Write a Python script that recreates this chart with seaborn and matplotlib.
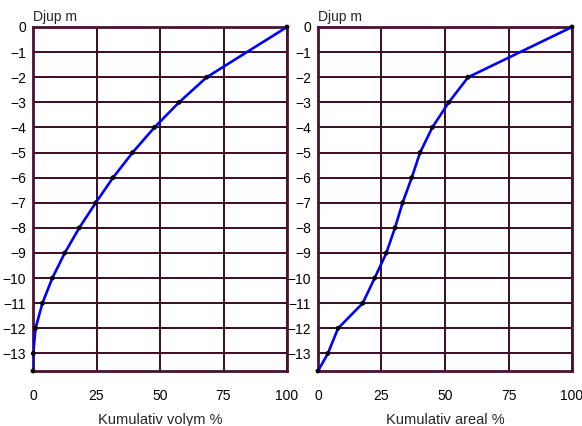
import numpy as np
import pandas as pd
import seaborn as sns
import matplotlib.pyplot as plt
from matplotlib.ticker import MultipleLocator

# depth in metres and cumulative percentages
depth = [0, -2, -3, -4, -5, -6, -7, -8, -9, -10, -11, -12, -13, -13.7]
volym = [100, 68.4, 57.5, 47.8, 39.2, 31.5, 24.7, 18.2, 12.5, 7.6, 3.7, 1.0, 0.1, 0]
areal = [100, 59.1, 51.5, 45.0, 40.2, 36.9, 33.3, 30.3, 26.9, 22.3, 17.6, 7.9, 3.9, 0]

x_labels = ["Kumulativ volym %", "Kumulativ areal %"]
y_label = "Djup m"

sns.set_style("white")
plt.rcParams['font.family'] = ['Liberation Sans', 'DejaVu Sans']

frame_col = '#4a1232'
grid_col = '#3a0c24'

fig = plt.figure(figsize=(5.82, 4.26), dpi=100)
ax1 = fig.add_axes([33 / 582, 55 / 426, 254 / 582, 344 / 426])
ax2 = fig.add_axes([318 / 582, 55 / 426, 254 / 582, 344 / 426])

for ax, vals, xlab in zip([ax1, ax2], [volym, areal], x_labels):
    df = pd.DataFrame({'pct': vals, 'depth': depth})
    sns.lineplot(data=df, x='pct', y='depth', sort=False, estimator=None,
                 color='#0000ff', linewidth=1.9, ax=ax, zorder=3)
    sns.scatterplot(data=df, x='pct', y='depth', color='black', s=12,
                    edgecolor='none', ax=ax, zorder=4, clip_on=False)

    ax.set_xlim(0, 100)
    ax.set_ylim(-13.7, 0)
    ax.xaxis.set_major_locator(MultipleLocator(25))
    ax.xaxis.set_minor_locator(MultipleLocator(5))
    ax.set_yticks(np.arange(0, -14, -1))
    ax.yaxis.set_minor_locator(MultipleLocator(0.2))

    ax.grid(True, which='major', color=grid_col, linewidth=1.4)
    ax.set_axisbelow(True)
    for sp in ax.spines.values():
        sp.set_color(frame_col)
        sp.set_linewidth(2)

    ax.tick_params(axis='both', which='both', direction='in', colors=frame_col,
                   labelcolor='black', labelsize=10)
    ax.tick_params(axis='both', which='major', length=0)
    ax.tick_params(axis='both', which='minor', length=3.5, width=1.2)
    ax.tick_params(axis='x', which='major', pad=13)
    ax.tick_params(axis='y', which='major', pad=5)

    ax.set_xlabel(xlab, fontsize=10.5, labelpad=7)
    ax.set_ylabel('')
    ax.text(0, 1.018, y_label, transform=ax.transAxes, ha='left',
            va='baseline', fontsize=10)

fig.savefig("out.png", dpi=100)
plt.close(fig)
